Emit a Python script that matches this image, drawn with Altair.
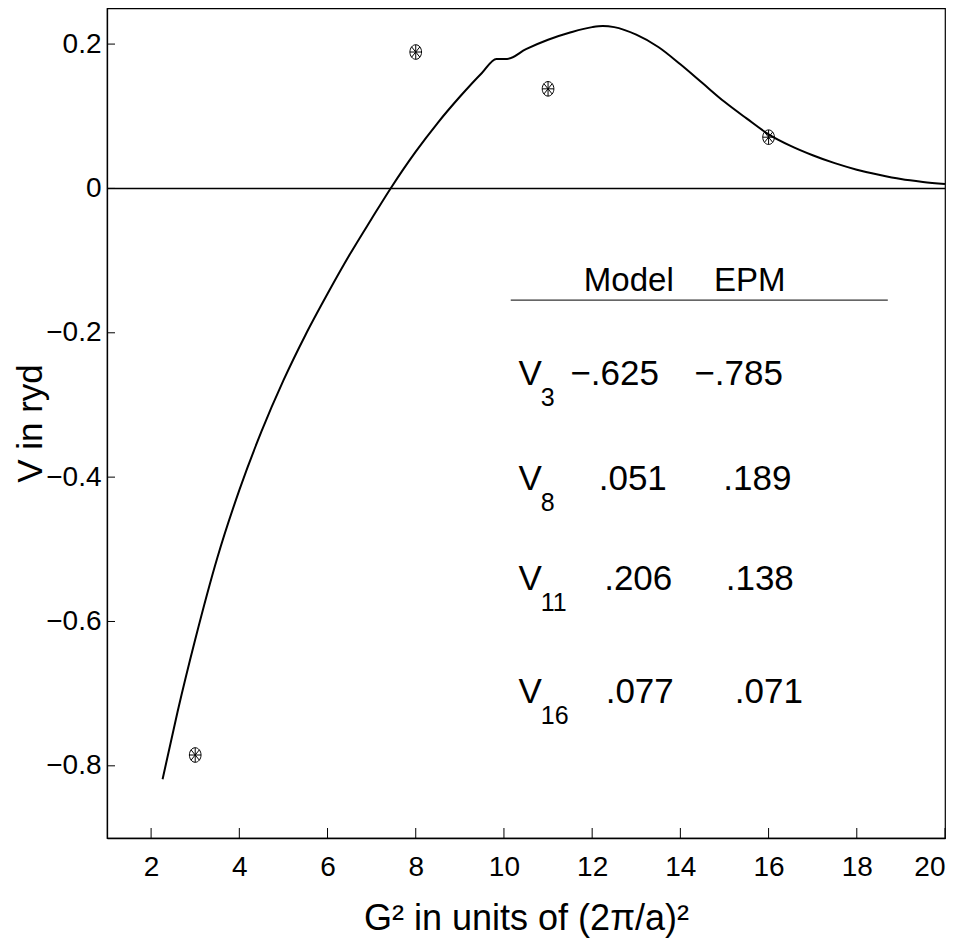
import altair as alt
import pandas as pd

# ---- data ----
curve_g2 = [2.26, 2.6, 3.0, 3.5, 4.0, 4.5, 5.0, 5.5, 6.0, 6.5, 7.0, 7.43, 8.0, 8.5,
            9.0, 9.5, 9.83, 10.07, 10.5, 11.0, 11.5, 12.0, 12.24, 12.5, 13.0, 13.5,
            14.0, 14.5, 15.0, 15.5, 16.0, 16.5, 17.0, 17.5, 18.0, 18.5, 19.0, 19.5, 20.0]
curve_v = [-0.8185, -0.725, -0.625, -0.512, -0.418, -0.337, -0.266, -0.203, -0.146,
           -0.092, -0.042, 0.0, 0.051, 0.091, 0.127, 0.160, 0.1795, 0.1795, 0.193,
           0.206, 0.216, 0.2235, 0.225, 0.2235, 0.213, 0.196, 0.172, 0.146, 0.120,
           0.097, 0.075, 0.059, 0.046, 0.035, 0.026, 0.019, 0.013, 0.009, 0.006]

epm_g2 = [3, 8, 11, 16]
epm_v = [-0.785, 0.189, 0.138, 0.071]

x_ticks = [2, 4, 6, 8, 10, 12, 14, 16, 18, 20]
y_ticks = [-0.8, -0.6, -0.4, -0.2, 0, 0.2]

row_sub = ["3", "8", "11", "16"]
model_txt = ["\u2212.625", ".051", ".206", ".077"]
epm_txt = ["\u2212.785", ".189", ".138", ".071"]
header_txt = ["Model", "EPM"]

# ---- layout of the text table (data coordinates) ----
row_y = [-0.2724, -0.4183, -0.5568, -0.7130]
v_x = 10.596
sub_x = 10.834
sub_dy = -0.0284
model_x = [12.51, 12.921, 13.045, 13.079]
epm_x = [15.32, 15.744, 15.800, 16.005]
header_x = [12.830, 15.574]
header_y = -0.1418
rule_x = [10.154, 18.703]
rule_y = -0.1547

FONT = "Liberation Sans, Arial, Helvetica, sans-serif"
W, H = 838, 830

xs = alt.Scale(domain=[1, 20], nice=False, zero=False)
ys = alt.Scale(domain=[-0.9, 0.25], nice=False, zero=False)

curve_df = pd.DataFrame({"g2": curve_g2, "v": curve_v})
epm_df = pd.DataFrame({"g2": epm_g2, "v": epm_v})

base_x = alt.X("g2:Q", scale=xs,
               axis=alt.Axis(values=x_ticks, title="G\u00b2 in units of (2\u03c0/a)\u00b2",
                             tickSize=0, labelPadding=15, grid=False, format="d",
                             titleFontSize=36, titleBaseline="alphabetic",
                             titleY=91, titleX=W / 2))
base_y = alt.Y("v:Q", scale=ys,
               axis=alt.Axis(values=y_ticks, title="V in ryd", tickSize=0,
                             labelPadding=6, grid=False, format=".1~f",
                             titleFontSize=35, titleBaseline="alphabetic",
                             titleAngle=-90, titleX=-66, titleY=H / 2))

curve = alt.Chart(curve_df).mark_line(color="black", strokeWidth=2,
                                      interpolate="monotone").encode(x=base_x, y=base_y)

marker_path = ("M0,-1.15A0.92,1.15,0,1,1,0,1.15A0.92,1.15,0,1,1,0,-1.15"
               "M-0.92,0L0.92,0M0,-1.15L0,1.15M-0.65,-0.81L0.65,0.81M-0.65,0.81L0.65,-0.81")
markers = alt.Chart(epm_df).mark_point(shape=marker_path, size=160, filled=False,
                                       color="black", strokeWidth=1, opacity=1).encode(
    x=alt.X("g2:Q", scale=xs), y=alt.Y("v:Q", scale=ys))

zero_df = pd.DataFrame({"v": [0]})
zero_line = alt.Chart(zero_df).mark_rule(color="black", strokeWidth=1.5).encode(
    y=alt.Y("v:Q", scale=ys), x=alt.value(0), x2=alt.value(W))

top_df = pd.DataFrame({"v": [0.25]})
top_line = alt.Chart(top_df).mark_rule(color="black", strokeWidth=2.5).encode(
    y=alt.Y("v:Q", scale=ys), x=alt.value(0), x2=alt.value(W))

xt_df = pd.DataFrame({"g2": x_ticks})
xticks = alt.Chart(xt_df).mark_rule(color="black", strokeWidth=1).encode(
    x=alt.X("g2:Q", scale=xs), y=alt.value(H), y2=alt.value(H - 10))
yt_df = pd.DataFrame({"v": y_ticks})
yticks = alt.Chart(yt_df).mark_rule(color="black", strokeWidth=1).encode(
    y=alt.Y("v:Q", scale=ys), x=alt.value(0), x2=alt.value(8))

# table
big_rows, sub_rows, head_rows = [], [], []
for i in range(4):
    big_rows.append({"x": v_x, "y": row_y[i], "t": "V"})
    big_rows.append({"x": model_x[i], "y": row_y[i], "t": model_txt[i]})
    big_rows.append({"x": epm_x[i], "y": row_y[i], "t": epm_txt[i]})
    sub_rows.append({"x": sub_x, "y": row_y[i] + sub_dy, "t": row_sub[i]})
for j in range(2):
    head_rows.append({"x": header_x[j], "y": header_y, "t": header_txt[j]})

big = alt.Chart(pd.DataFrame(big_rows)).mark_text(
    align="center", baseline="alphabetic", font=FONT, fontSize=35, color="black").encode(
    x=alt.X("x:Q", scale=xs), y=alt.Y("y:Q", scale=ys), text="t:N")
heads = alt.Chart(pd.DataFrame(head_rows)).mark_text(
    align="center", baseline="alphabetic", font=FONT, fontSize=33, color="black").encode(
    x=alt.X("x:Q", scale=xs), y=alt.Y("y:Q", scale=ys), text="t:N")
small = alt.Chart(pd.DataFrame(sub_rows)).mark_text(
    align="left", baseline="alphabetic", font=FONT, fontSize=25, color="black").encode(
    x=alt.X("x:Q", scale=xs), y=alt.Y("y:Q", scale=ys), text="t:N")

rule_df = pd.DataFrame({"x": [rule_x[0]], "x2": [rule_x[1]], "y": [rule_y]})
hrule = alt.Chart(rule_df).mark_rule(color="#333333", strokeWidth=1.2).encode(
    x=alt.X("x:Q", scale=xs), x2="x2:Q", y=alt.Y("y:Q", scale=ys))

chart = alt.layer(zero_line, top_line, curve, markers, xticks, yticks, hrule,
                  heads, big, small).properties(
    width=W, height=H,
    autosize=alt.AutoSizeParams(type="none"),
    padding={"left": 99, "top": 0, "right": 10, "bottom": 100},
).configure_view(stroke="black", strokeWidth=1.2).configure_axis(
    labelFont=FONT, titleFont=FONT, labelFontSize=28,
    labelColor="black", titleColor="black", titleFontWeight="normal",
    domainColor="black", domainWidth=1.3,
)

chart.save("out.html", embed_options={"renderer": "svg", "actions": False})
